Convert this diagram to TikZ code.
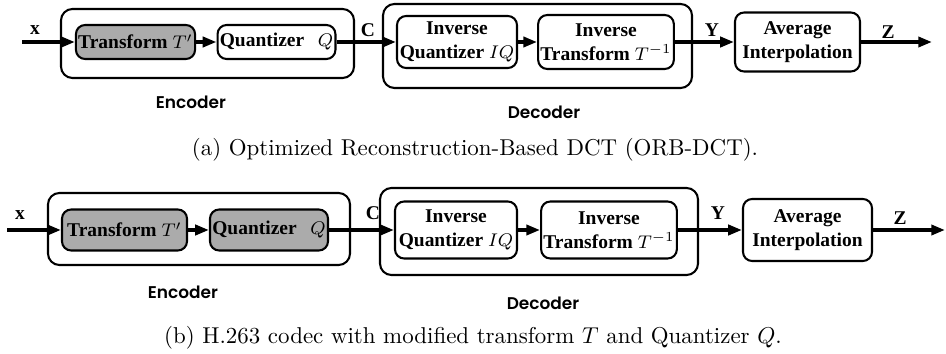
\documentclass[tikz,border=0pt]{standalone}
\usepackage{fontspec}
\newfontfamily\timesfont{Liberation Serif}
\newfontfamily\gothicfont{Poppins SemiBold}
\usetikzlibrary{arrows.meta}
\newlength\pxu
\setlength\pxu{0.01533cm}

\begin{document}
\begin{tikzpicture}[
    x=\pxu, y=-\pxu,
    block/.style={
        rectangle, rounded corners=4pt, draw, line width=0.9pt,
        align=center, inner sep=1pt,
        font=\timesfont\bfseries\fontsize{8.5}{10.5}\selectfont
    },
    graybox/.style={block, fill=black!33},
    stage/.style={rectangle, rounded corners=5pt, draw, line width=0.9pt},
    sig/.style={font=\timesfont\bfseries\fontsize{8.5}{9}\selectfont},
    part/.style={font=\gothicfont\fontsize{7.4}{9}\selectfont},
    flow/.style={-{Triangle[length=6pt, width=4.4pt]}, line width=1.6pt}
]
\useasboundingbox (0,0) rectangle (946,354);

% (a) ORB-DCT chain
\node[stage, minimum width=293*\pxu, minimum height=69*\pxu] (encA) at (207.5,43.5) {};
\node[stage, minimum width=309*\pxu, minimum height=84*\pxu] (decA) at (537.5,46) {};

\node[graybox, minimum width=119*\pxu, minimum height=34*\pxu] (trA) at (135.5,42) {Transform $T'$};
\node[block, minimum width=115*\pxu, minimum height=34*\pxu] (quA) at (276.5,42) {Quantizer\hspace{0.7em}$Q$};
\node[block, minimum width=120*\pxu, minimum height=52*\pxu] (iqA) at (457,42) {Inverse\\Quantizer $IQ$};
\node[block, minimum width=128*\pxu, minimum height=54*\pxu] (itA) at (606,42) {Inverse\\Transform $T^{-1}$};
\node[block, minimum width=125*\pxu, minimum height=59*\pxu] (avA) at (797.5,42) {Average\\Interpolation};

\coordinate (inA) at (22,42);
\coordinate (outA) at (932,42);
\draw[flow] (inA) -- (trA);
\draw[flow] (trA) -- (quA);
\draw[flow] (quA) -- (iqA);
\draw[flow] (iqA) -- (itA);
\draw[flow] (itA) -- (avA);
\draw[flow] (avA) -- (outA);

\node[sig] (xA) at (35,30) {x};
\node[sig] (cA) at (368,30) {C};
\node[sig] (yA) at (712,30) {Y};
\node[sig] (zA) at (888,32) {Z};

\node[part] (encAlabel) at (191,102) {Encoder};
\node[part] (decAlabel) at (544,112) {Decoder};
\node (capA) at (475,150) {(a) Optimized Reconstruction-Based DCT (ORB-DCT).};

% (b) H.263 chain
\node[stage, minimum width=302*\pxu, minimum height=72*\pxu] (encB) at (199,229) {};
\node[stage, minimum width=318*\pxu, minimum height=87*\pxu] (decB) at (539,231.5) {};

\node[graybox, minimum width=125*\pxu, minimum height=41*\pxu] (trB) at (124.5,230) {Transform $T'$};
\node[graybox, minimum width=118*\pxu, minimum height=41*\pxu] (quB) at (269,230) {Quantizer\hspace{0.7em}$Q$};
\node[block, minimum width=122*\pxu, minimum height=57*\pxu] (iqB) at (456,230) {Inverse\\Quantizer $IQ$};
\node[block, minimum width=132*\pxu, minimum height=57*\pxu] (itB) at (609,230) {Inverse\\Transform $T^{-1}$};
\node[block, minimum width=129*\pxu, minimum height=62*\pxu] (avB) at (807.5,230) {Average\\Interpolation};

\coordinate (inB) at (7,230);
\coordinate (outB) at (945,230);
\draw[flow] (inB) -- (trB);
\draw[flow] (trB) -- (quB);
\draw[flow] (quB) -- (iqB);
\draw[flow] (iqB) -- (itB);
\draw[flow] (itB) -- (avB);
\draw[flow] (avB) -- (outB);

\node[sig] (xB) at (20,215) {x};
\node[sig] (cB) at (373,213) {C};
\node[sig] (yB) at (718,213) {Y};
\node[sig] (zB) at (900,218) {Z};

\node[part] (encBlabel) at (183,292) {Encoder};
\node[part] (decBlabel) at (543,303) {Decoder};
\node (capB) at (473,338) {(b) H.263 codec with modified transform $T$ and Quantizer $Q$.};
\end{tikzpicture}
\end{document}
